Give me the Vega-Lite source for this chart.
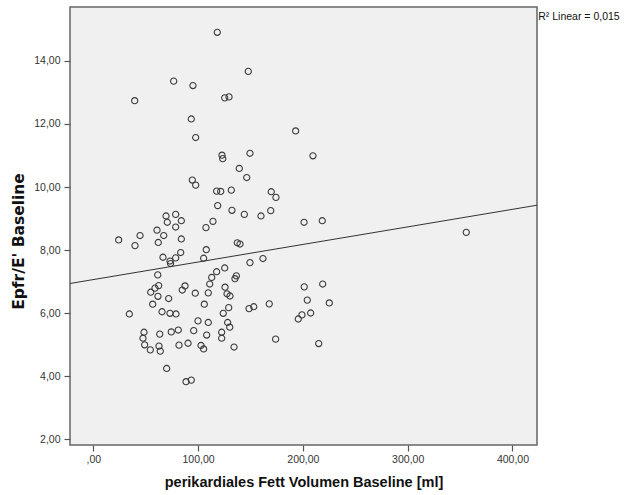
{
  "$schema": "https://vega.github.io/schema/vega-lite/v6.json",
  "width": 467,
  "height": 438,
  "autosize": {"type": "none"},
  "padding": {"left": 70, "top": 7, "right": 93, "bottom": 50},
  "background": "white",
  "config": {
    "view": {"fill": "#f0f0f0", "stroke": "#666666", "strokeWidth": 1.5},
    "font": "Liberation Sans",
    "axis": {
      "grid": false,
      "domain": false,
      "labelFont": "Liberation Sans",
      "labelFontSize": 10.5,
      "labelColor": "#333333",
      "tickColor": "#555555",
      "tickSize": 6,
      "tickWidth": 1.2,
      "titleColor": "#111111",
      "titleFontWeight": "bold"
    }
  },
  "datasets": {
    "pts": [
      {"fett":118.3,"epfr":14.91},{"fett":147.9,"epfr":13.67},{"fett":76.7,"epfr":13.36},{"fett":95.1,"epfr":13.22},{"fett":39.5,"epfr":12.74},{"fett":125.4,"epfr":12.83},{"fett":129.5,"epfr":12.86},{"fett":93.5,"epfr":12.16},{"fett":193.1,"epfr":11.78},{"fett":97.7,"epfr":11.57},
      {"fett":122.8,"epfr":11.01},{"fett":123.5,"epfr":10.90},{"fett":149.5,"epfr":11.07},{"fett":209.6,"epfr":10.99},{"fett":139.3,"epfr":10.59},{"fett":146.4,"epfr":10.30},{"fett":94.5,"epfr":10.22},{"fett":97.7,"epfr":10.06},{"fett":117.7,"epfr":9.87},{"fett":121.6,"epfr":9.86},
      {"fett":131.7,"epfr":9.90},{"fett":169.8,"epfr":9.85},{"fett":174.3,"epfr":9.67},{"fett":118.7,"epfr":9.41},{"fett":132.3,"epfr":9.26},{"fett":144.1,"epfr":9.13},{"fett":160.0,"epfr":9.08},{"fett":169.3,"epfr":9.25},{"fett":69.4,"epfr":9.08},{"fett":78.6,"epfr":9.13},
      {"fett":70.6,"epfr":8.88},{"fett":84.0,"epfr":8.93},{"fett":78.6,"epfr":8.73},{"fett":114.2,"epfr":8.91},{"fett":107.5,"epfr":8.71},{"fett":60.8,"epfr":8.63},{"fett":44.6,"epfr":8.46},{"fett":67.2,"epfr":8.46},{"fett":24.2,"epfr":8.32},{"fett":39.8,"epfr":8.14},
      {"fett":62.0,"epfr":8.24},{"fett":84.0,"epfr":8.35},{"fett":137.4,"epfr":8.23},{"fett":140.0,"epfr":8.19},{"fett":107.8,"epfr":8.01},{"fett":83.4,"epfr":7.92},{"fett":66.5,"epfr":7.77},{"fett":78.6,"epfr":7.75},{"fett":73.2,"epfr":7.65},{"fett":73.7,"epfr":7.57},
      {"fett":105.3,"epfr":7.74},{"fett":149.5,"epfr":7.60},{"fett":161.9,"epfr":7.73},{"fett":125.4,"epfr":7.43},{"fett":117.7,"epfr":7.31},{"fett":61.5,"epfr":7.21},{"fett":113.0,"epfr":7.13},{"fett":136.5,"epfr":7.18},{"fett":135.2,"epfr":7.09},{"fett":111.1,"epfr":6.92},
      {"fett":62.4,"epfr":6.87},{"fett":58.9,"epfr":6.79},{"fett":54.8,"epfr":6.66},{"fett":61.7,"epfr":6.53},{"fett":71.9,"epfr":6.46},{"fett":87.5,"epfr":6.86},{"fett":84.9,"epfr":6.73},{"fett":97.3,"epfr":6.63},{"fett":109.7,"epfr":6.64},{"fett":125.7,"epfr":6.82},
      {"fett":127.6,"epfr":6.61},{"fett":130.4,"epfr":6.54},{"fett":56.7,"epfr":6.28},{"fett":105.9,"epfr":6.28},{"fett":129.2,"epfr":6.17},{"fett":148.6,"epfr":6.14},{"fett":153.1,"epfr":6.20},{"fett":167.9,"epfr":6.29},{"fett":34.4,"epfr":5.97},{"fett":65.6,"epfr":6.04},
      {"fett":73.2,"epfr":5.99},{"fett":78.9,"epfr":5.97},{"fett":99.9,"epfr":5.75},{"fett":109.7,"epfr":5.70},{"fett":124.0,"epfr":5.99},{"fett":128.2,"epfr":5.70},{"fett":130.2,"epfr":5.55},{"fett":48.4,"epfr":5.39},{"fett":47.4,"epfr":5.20},{"fett":49.0,"epfr":4.99},
      {"fett":54.4,"epfr":4.83},{"fett":63.4,"epfr":5.33},{"fett":74.4,"epfr":5.40},{"fett":81.1,"epfr":5.46},{"fett":95.8,"epfr":5.44},{"fett":108.2,"epfr":5.30},{"fett":122.5,"epfr":5.39},{"fett":122.5,"epfr":5.20},{"fett":62.7,"epfr":4.95},{"fett":63.9,"epfr":4.79},
      {"fett":81.8,"epfr":4.98},{"fett":90.4,"epfr":5.04},{"fett":102.8,"epfr":4.97},{"fett":105.3,"epfr":4.86},{"fett":134.3,"epfr":4.92},{"fett":174.0,"epfr":5.17},{"fett":70.0,"epfr":4.24},{"fett":88.5,"epfr":3.82},{"fett":93.5,"epfr":3.87},{"fett":201.1,"epfr":8.88},
      {"fett":218.5,"epfr":8.93},{"fett":355.9,"epfr":8.56},{"fett":201.3,"epfr":6.83},{"fett":218.9,"epfr":6.92},{"fett":204.2,"epfr":6.41},{"fett":225.2,"epfr":6.32},{"fett":207.4,"epfr":6.00},{"fett":195.6,"epfr":5.81},{"fett":199.1,"epfr":5.94},{"fett":215.1,"epfr":5.03}
    ],
    "fit": [
      {"fett": -22.23, "epfr": 6.937},
      {"fett": 423.4, "epfr": 9.422}
    ]
  },
  "layer": [
    {
      "data": {"name": "pts"},
      "mark": {"type": "point", "shape": "circle", "filled": false, "size": 38, "stroke": "#3a3a3a", "strokeWidth": 1.1, "opacity": 1},
      "encoding": {
        "x": {
          "field": "fett",
          "type": "quantitative",
          "scale": {"domain": [-22.23, 423.4], "nice": false, "zero": false},
          "axis": {
            "values": [0, 100, 200, 300, 400],
            "labelExpr": "datum.value === 0 ? ',00' : replace(format(datum.value, '.2f'), '.', ',')",
            "labelPadding": 3,
            "title": "perikardiales Fett Volumen Baseline [ml]",
            "titleFont": "Liberation Sans",
            "titleFontSize": 14.5,
            "titleY": 37.7,
            "titleBaseline": "middle"
          }
        },
        "y": {
          "field": "epfr",
          "type": "quantitative",
          "scale": {"domain": [1.81, 15.714], "nice": false, "zero": false},
          "axis": {
            "values": [2, 4, 6, 8, 10, 12, 14],
            "labelExpr": "replace(format(datum.value, '.2f'), '.', ',')",
            "labelPadding": 4,
            "title": "Epfr/E' Baseline",
            "titleFont": "DejaVu Sans",
            "titleFontSize": 15.5,
            "titleAngle": -90,
            "titleX": -52,
            "titleY": 234,
            "titleBaseline": "middle",
            "titleAlign": "center"
          }
        }
      }
    },
    {
      "data": {"name": "fit"},
      "mark": {"type": "line", "color": "#333333", "strokeWidth": 1},
      "encoding": {
        "x": {"field": "fett", "type": "quantitative", "title": "perikardiales Fett Volumen Baseline [ml]"},
        "y": {"field": "epfr", "type": "quantitative", "title": "Epfr/E' Baseline"}
      }
    },
    {
      "data": {"values": [{"label": "R² Linear = 0,015"}]},
      "mark": {"type": "text", "align": "left", "baseline": "middle", "fontSize": 10.5, "font": "Liberation Sans", "color": "#111111", "clip": false},
      "encoding": {
        "x": {"datum": 424.6, "type": "quantitative"},
        "y": {"datum": 15.39, "type": "quantitative"},
        "text": {"field": "label"}
      }
    }
  ]
}
